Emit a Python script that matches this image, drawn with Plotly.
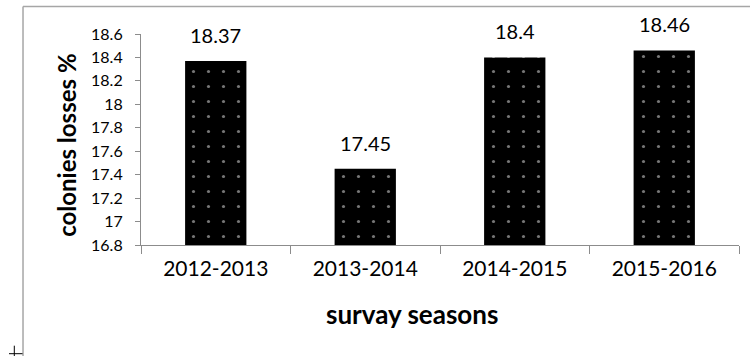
import plotly.graph_objects as go

# Survey data
seasons = ["2012-2013", "2013-2014", "2014-2015", "2015-2016"]
losses = [18.37, 17.45, 18.40, 18.46]
value_labels = ["18.37", "17.45", "18.4", "18.46"]

y_tickvals = [16.8, 17.0, 17.2, 17.4, 17.6, 17.8, 18.0, 18.2, 18.4, 18.6]
y_ticktext = ["16.8", "17", "17.2", "17.4", "17.6", "17.8", "18", "18.2", "18.4", "18.6"]

FONT = "Lato"
AXIS_GREY = "#8c8c8c"
FRAME_GREY = "#a6a6a6"

fig = go.Figure()
fig.add_trace(go.Bar(
    x=seasons,
    y=losses,
    marker=dict(
        color="black",
        line=dict(width=0),
        pattern=dict(shape=".", bgcolor="black", fgcolor="#ececec",
                     size=15, solidity=0.035),
    ),
    hoverinfo="x+y",
))

annotations = []
for s, v, t in zip(seasons, losses, value_labels):
    annotations.append(dict(
        x=s, y=v, text=t, showarrow=False, xref="x", yref="y",
        yanchor="bottom", yshift=12,
        font=dict(family=FONT, size=20, color="black"),
    ))

# axis titles
annotations.append(dict(
    text="<b>survay seasons</b>", showarrow=False,
    xref="paper", yref="paper", x=0.4532, y=-0.327,
    xanchor="center", yanchor="middle",
    font=dict(family=FONT, size=26, color="black"),
))
annotations.append(dict(
    text="<b>colonies losses %</b>", showarrow=False, textangle=-90,
    xref="paper", yref="paper", x=-0.1237, y=0.47,
    xanchor="center", yanchor="middle",
    font=dict(family=FONT, size=24, color="black"),
))

# chart frame (top and left edges) and the small cross mark
shapes = [
    dict(type="line", xref="paper", yref="paper",
         x0=-0.1973, x1=1.02, y0=1.1303, y1=1.1303,
         line=dict(color=FRAME_GREY, width=1.5)),
    dict(type="line", xref="paper", yref="paper",
         x0=-0.1973, x1=-0.1973, y0=1.1303, y1=-0.53,
         line=dict(color=FRAME_GREY, width=1.5)),
    dict(type="line", xref="paper", yref="paper",
         x0=(9 - 141) / 598, x1=(22.5 - 141) / 598,
         y0=(245 - 353.7) / 211, y1=(245 - 353.7) / 211,
         line=dict(color="black", width=1)),
    dict(type="line", xref="paper", yref="paper",
         x0=(14.3 - 141) / 598, x1=(14.3 - 141) / 598,
         y0=(245 - 345.7) / 211, y1=(245 - 360) / 211,
         line=dict(color="black", width=1)),
]

fig.update_layout(
    width=750, height=356,
    margin=dict(l=141, r=11, t=34, b=111),
    paper_bgcolor="white", plot_bgcolor="white",
    showlegend=False,
    bargap=0.59,
    annotations=annotations,
    shapes=shapes,
    font=dict(family=FONT, color="black"),
)
fig.update_xaxes(
    showline=True, linecolor=AXIS_GREY, linewidth=1.2,
    ticks="outside", tickson="boundaries", ticklen=8, tickcolor=AXIS_GREY, tickwidth=1.2,
    tickfont=dict(family=FONT, size=21, color="black"),
    ticklabelstandoff=5,
    showgrid=False, zeroline=False,
)
fig.update_yaxes(
    range=[16.8, 18.6],
    tickvals=y_tickvals, ticktext=y_ticktext,
    showline=True, linecolor=AXIS_GREY, linewidth=1.2,
    ticks="outside", ticklen=5, tickcolor=AXIS_GREY, tickwidth=1.2,
    tickfont=dict(family=FONT, size=16, color="black"),
    ticklabelstandoff=9,
    showgrid=False, zeroline=False,
)

fig.write_html("out.html")
